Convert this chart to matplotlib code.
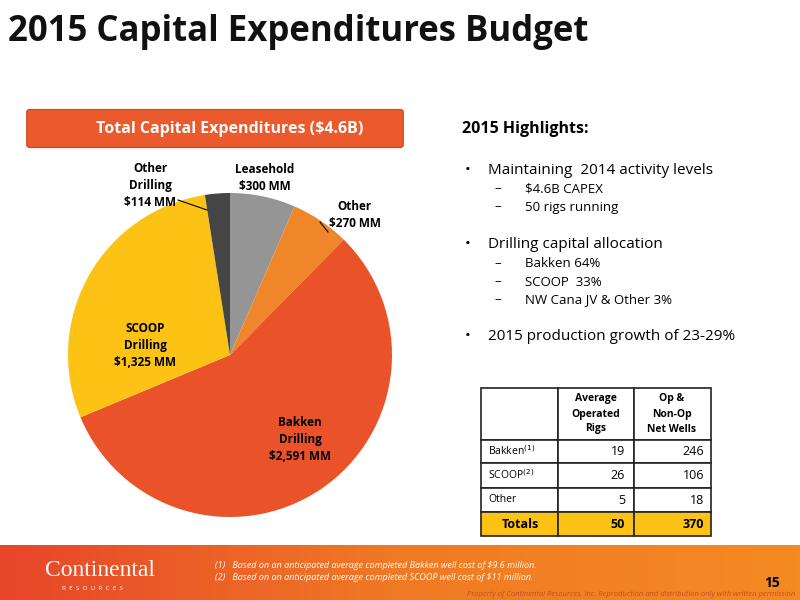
import numpy as np
import matplotlib.pyplot as plt
from matplotlib.patches import FancyBboxPatch, Rectangle
from matplotlib.colors import LinearSegmentedColormap

plt.rcParams['font.family'] = ['Open Sans', 'DejaVu Sans']

segments = ['Leasehold\n$300 MM', 'Other\n$270 MM', 'Bakken\nDrilling\n$2,591 MM',
            'SCOOP\nDrilling\n$1,325 MM', 'Other\nDrilling\n$114 MM']
capex = [300, 270, 2591, 1325, 114]
colors = ['#959595', '#f0862a', '#ea5329', '#fcc314', '#454545']

rows = ['Bakken$^{(1)}$', 'SCOOP$^{(2)}$', 'Other']
rigs = [19, 26, 5]
wells = [246, 106, 18]

fig = plt.figure(figsize=(8, 6), dpi=100)
W, H = 800, 600

def fx(x): return x / W
def fy(y): return 1 - y / H

fig.text(fx(8), fy(32), '2015 Capital Expenditures Budget', fontsize=25, fontweight='bold',
         color='#111111', va='center')

# banner
fig.patches.append(FancyBboxPatch((fx(30), fy(145)), fx(400) - fx(30), fy(112) - fy(145),
                                  boxstyle='round,pad=0.004', transform=fig.transFigure,
                                  fc='#eb5a2c', ec='#d04a20'))
fig.text(fx(230), fy(129), 'Total Capital Expenditures ($4.6B)', color='white', fontsize=11.5,
         fontweight='bold', ha='center', va='center')

# pie
ax = fig.add_axes([fx(68), fy(517), 324 / W, 324 / H])
wedges, _ = ax.pie(capex, colors=colors, startangle=90, counterclock=False,
                   wedgeprops=dict(linewidth=0))
ax.set_xlim(-1, 1)
ax.set_ylim(-1, 1)
ax.set_aspect('equal')
lab = [(265, 178, 'k'), (355, 215, 'k'), (300, 440, 'k'), (145, 345, 'k'), (150, 185, 'k')]
for (x, y, c), s in zip(lab, segments):
    fig.text(fx(x), fy(y), s, ha='center', va='center', fontsize=8.5, fontweight='bold',
             color=c, linespacing=1.4)
fig.add_artist(plt.Line2D([fx(178), fx(207)], [fy(200), fy(210)], color='k', lw=0.8))
fig.add_artist(plt.Line2D([fx(320), fx(328)], [fy(222), fy(232)], color='k', lw=0.8))

# highlights
fig.text(fx(462), fy(129), '2015 Highlights:', fontsize=11.5, fontweight='bold', va='center')
items = [(170, '•', 'Maintaining  2014 activity levels', 11),
         (189, '–', '$4.6B CAPEX', 9.5), (207, '–', '50 rigs running', 9.5),
         (245, '•', 'Drilling capital allocation', 11),
         (264, '–', 'Bakken 64%', 9.5), (282, '–', 'SCOOP  33%', 9.5),
         (300, '–', 'NW Cana JV & Other 3%', 9.5),
         (337, '•', '2015 production growth of 23-29%', 11)]
for y, b, t, fs in items:
    if b == '•':
        fig.text(fx(465), fy(y), b, fontsize=fs, va='center')
        fig.text(fx(488), fy(y), t, fontsize=fs, va='center')
    else:
        fig.text(fx(494), fy(y), b, fontsize=fs, va='center')
        fig.text(fx(525), fy(y), t, fontsize=fs, va='center')

# table
cx = [481, 558, 634, 711]
cy = [388, 440, 463, 488, 512, 536]
def rect(x0, y0, x1, y1, fc):
    fig.patches.append(Rectangle((fx(x0), fy(y1)), fx(x1) - fx(x0), fy(y0) - fy(y1),
                                 transform=fig.transFigure, fc=fc, ec='#222222', lw=1.2))
for i in range(5):
    for j in range(3):
        rect(cx[j], cy[i], cx[j + 1], cy[i + 1], '#fcc314' if i == 4 else 'white')
fig.text(fx(596), fy(414), 'Average\nOperated\nRigs', ha='center', va='center', fontsize=7.5,
         fontweight='bold', linespacing=1.5)
fig.text(fx(672), fy(414), 'Op &\nNon-Op\nNet Wells', ha='center', va='center', fontsize=7.5,
         fontweight='bold', linespacing=1.5)
for i, (r, a, b) in enumerate(zip(rows, rigs, wells)):
    ym = (cy[i + 1] + cy[i + 2]) / 2
    fig.text(fx(488), fy(ym), r, fontsize=7.5, va='center')
    fig.text(fx(625), fy(ym), str(a), fontsize=9, va='center', ha='right')
    fig.text(fx(704), fy(ym), str(b), fontsize=9, va='center', ha='right')
fig.text(fx(520), fy(524), 'Totals', fontsize=9, fontweight='bold', va='center', ha='center')
fig.text(fx(625), fy(524), str(sum(rigs)), fontsize=9, fontweight='bold', va='center', ha='right')
fig.text(fx(704), fy(524), str(sum(wells)), fontsize=9, fontweight='bold', va='center', ha='right')

# footer gradient
fax = fig.add_axes([0, 0, 1, fy(545)])
grad = np.linspace(0, 1, 256)[None, :]
cmap = LinearSegmentedColormap.from_list('f', ['#e8452a', '#f07a24', '#f58a22'])
fax.imshow(grad, aspect='auto', cmap=cmap, extent=[0, 1, 0, 1])
fax.axis('off')
fig.text(fx(45), fy(570), 'Continental', fontsize=17, family='Liberation Serif', color='white',
         va='center')
fig.text(fx(62), fy(589), 'R  E  S  O  U  R  C  E  S', fontsize=4.5, color='white', va='center')
fig.text(fx(215), fy(566), '(1)   Based on an anticipated average completed Bakken well cost of $9.6 million.',
         fontsize=6.5, style='italic', color='white', va='center')
fig.text(fx(215), fy(578), '(2)   Based on an anticipated average completed SCOOP well cost of $11 million.',
         fontsize=6.5, style='italic', color='white', va='center')
fig.text(fx(780), fy(583), '15', fontsize=10, fontweight='bold', va='center', ha='right')
fig.text(fx(795), fy(594), 'Property of Continental Resources, Inc. Reproduction and distribution only with written permission',
         fontsize=5.5, style='italic', color='#c0502a', va='center', ha='right')

fig.savefig('out.png', dpi=100)
